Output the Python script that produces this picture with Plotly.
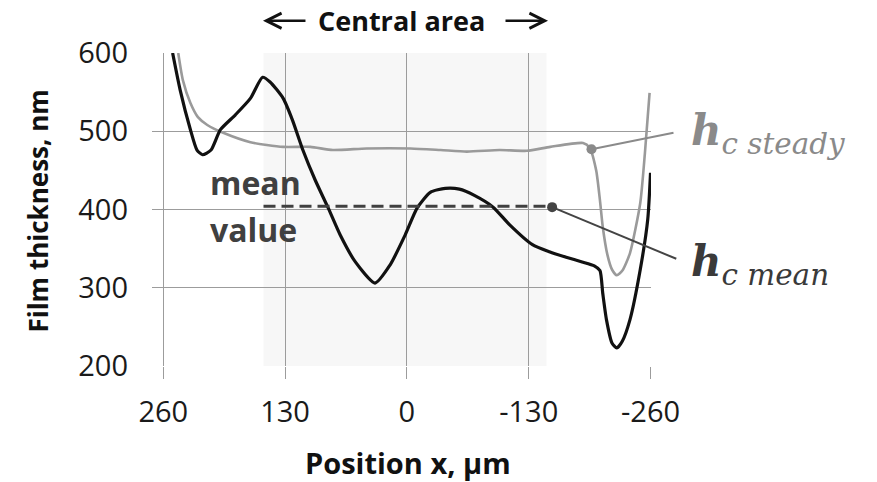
import plotly.graph_objects as go

# Film thickness profiles along x (µm -> nm)
x_mean_profile = [250, 242, 231, 224, 218, 209, 199, 183, 167, 154, 146, 132, 122, 111, 98, 84,
                  71, 55, 34, 18, 2, -11, -25, -41, -56, -72, -92, -110, -134, -152, -170,
                  -187, -200, -206, -209, -213, -219, -224, -230, -238, -249, -257, -260]
h_mean_profile = [600, 553, 502, 476, 470, 476, 502, 521, 542, 569, 563, 542, 514, 476, 438, 402,
                  367, 333, 306, 329, 367, 402, 422, 427, 426, 418, 403, 380, 355, 346, 339,
                  333, 328, 322, 293, 259, 229, 223, 232, 259, 323, 387, 447]

x_steady_profile = [244, 239, 231, 223, 213, 196, 167, 132, 103, 79, 43, -4, -36, -64, -99, -128,
                    -153, -188, -195, -202, -206, -209, -214, -219, -224, -230, -238, -249, -254,
                    -259]
h_steady_profile = [600, 565, 536, 518, 508, 498, 486, 480, 480, 476, 478, 478, 476, 474, 476, 475,
                    480, 485, 479, 450, 412, 378, 342, 323, 316, 322, 344, 408, 472, 549]

central_area = [153, -149]
mean_value = 404
mean_span = [153, -155]
steady_marker = [-197, 477]
mean_marker = [-155, 403]

x_ticks = [260, 130, 0, -130, -260]
y_ticks = [200, 300, 400, 500, 600]
x_range = [272, -260.5]
y_range = [200, 600]


def to_paper(x, y):
    return ((x - x_range[0]) / (x_range[1] - x_range[0]),
            (y - y_range[0]) / (y_range[1] - y_range[0]))


fig = go.Figure()

fig.add_trace(go.Scatter(
    x=x_steady_profile, y=h_steady_profile, mode="lines",
    line=dict(color="#9a9a9a", width=2.6, shape="spline", smoothing=0.6),
    hoverinfo="skip", showlegend=False))

fig.add_trace(go.Scatter(
    x=x_mean_profile, y=h_mean_profile, mode="lines",
    line=dict(color="#111111", width=3.2, shape="spline", smoothing=0.6),
    hoverinfo="skip", showlegend=False))

fig.add_trace(go.Scatter(
    x=mean_span, y=[mean_value, mean_value], mode="lines",
    line=dict(color="#404040", width=3, dash="12px,6px"),
    hoverinfo="skip", showlegend=False))

fig.add_trace(go.Scatter(
    x=[steady_marker[0], mean_marker[0]], y=[steady_marker[1], mean_marker[1]],
    mode="markers", marker=dict(color=["#8a8a8a", "#444444"], size=10),
    cliponaxis=False, hoverinfo="skip", showlegend=False))

# shaded central region
fig.add_shape(type="rect", xref="x", yref="paper", x0=central_area[0], x1=central_area[1],
              y0=0, y1=1, fillcolor="#f7f7f7", line_width=0, layer="below")

# leader lines to the symbol labels
sx0, sy0 = to_paper(*steady_marker)
sx1, sy1 = to_paper(-284.5, 498)
fig.add_shape(type="line", xref="paper", yref="paper", x0=sx0, y0=sy0, x1=sx1, y1=sy1,
              line=dict(color="#8a8a8a", width=2))
mx0, my0 = to_paper(*mean_marker)
mx1, my1 = to_paper(-287.5, 337)
fig.add_shape(type="line", xref="paper", yref="paper", x0=mx0, y0=my0, x1=mx1, y1=my1,
              line=dict(color="#444444", width=2))

sans = "Open Sans"
serif = "DejaVu Serif"

annotations = [
    dict(text="<b>Central area</b>", x=0.5, y=1.105,
         font=dict(family=sans, size=27, color="#111111")),
    dict(text="<b>mean</b>", x=0.207, y=0.585,
         font=dict(family=sans, size=32, color="#404040")),
    dict(text="<b>value</b>", x=0.203, y=0.437,
         font=dict(family=sans, size=32, color="#404040")),
    dict(text="<b><i>h</i></b><sub><i>c steady</i></sub>", x=1.076, y=0.742, xanchor="left",
         font=dict(family=serif, size=42, color="#8a8a8a")),
    dict(text="<b><i>h</i></b><sub><i>c mean</i></sub>", x=1.076, y=0.325, xanchor="left",
         font=dict(family=serif, size=42, color="#3a3a3a")),
    dict(text="<b>Film thickness, nm</b>", x=-0.2275, y=0.495, textangle=-90,
         font=dict(family=sans, size=26, color="#111111")),
    dict(text="<b>Position x, \u00b5m</b>", x=0.513, y=-0.307,
         font=dict(family=sans, size=29, color="#111111")),
]
for a in annotations:
    a.setdefault("xref", "paper")
    a.setdefault("yref", "paper")
    a.setdefault("xanchor", "center")
    a.setdefault("yanchor", "middle")
    a.setdefault("showarrow", False)
    fig.add_annotation(**a)

# arrows either side of the central-area heading (tip position, tail offset in px)
for tip_x, tail_dx in [(0.2224, 44), (0.7936, -44)]:
    fig.add_annotation(xref="paper", yref="paper", x=tip_x, y=1.103, text="",
                       showarrow=True, ax=tail_dx, ay=0, arrowhead=5, arrowsize=1.25,
                       arrowwidth=2.4, arrowcolor="#111111")

fig.update_xaxes(range=x_range, tickvals=x_ticks, ticktext=[str(v) for v in x_ticks],
                 showgrid=True, gridcolor="#9c9c9c", gridwidth=1, zeroline=False,
                 ticks="outside", ticklen=12, tickcolor="#9c9c9c", tickwidth=1,
                 showline=False, tickfont=dict(family=sans, size=29, color="#1a1a1a"),
                 ticklabelstandoff=8)
fig.update_yaxes(range=y_range, tickvals=y_ticks, showgrid=True, gridcolor="#9c9c9c",
                 gridwidth=1, zeroline=False, ticks="", showline=False,
                 tickfont=dict(family=sans, size=29, color="#1a1a1a"),
                 ticklabelstandoff=23)

fig.update_layout(width=877, height=482, margin=dict(l=152, r=226, t=53, b=116),
                  plot_bgcolor="white", paper_bgcolor="white", showlegend=False)

fig.write_html("out.html")
